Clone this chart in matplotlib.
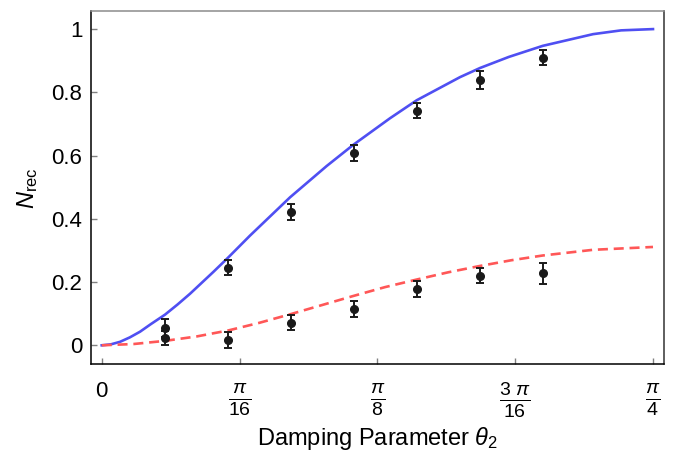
import matplotlib
matplotlib.use("Agg")
import matplotlib.pyplot as plt
import numpy as np

plt.rcParams["font.family"] = ["Liberation Sans", "DejaVu Sans"]
plt.rcParams["mathtext.fontset"] = "custom"
plt.rcParams["mathtext.rm"] = "Liberation Sans"
plt.rcParams["mathtext.it"] = "Liberation Sans:italic"
plt.rcParams["mathtext.bf"] = "Liberation Sans:bold"

# theory curves (theta in rad)
blue_theta = [0, 0.013, 0.0261, 0.040, 0.0546, 0.070, 0.0902, 0.108, 0.1258,
              0.159, 0.1804, 0.2113, 0.2683, 0.3205, 0.3584, 0.4107, 0.4488,
              0.5104, 0.539, 0.58, 0.6283, 0.70, 0.74, 0.7854]
blue_val = [0, 0.003, 0.011, 0.025, 0.043, 0.067, 0.097, 0.129, 0.163,
            0.232, 0.278, 0.347, 0.468, 0.567, 0.634, 0.718, 0.775,
            0.848, 0.877, 0.912, 0.947, 0.984, 0.996, 1.0]

red_theta = [0, 0.0451, 0.0902, 0.1353, 0.1804, 0.2244, 0.2683, 0.3134, 0.3584,
             0.4036, 0.4488, 0.4939, 0.539, 0.5836, 0.6283, 0.70, 0.7854]
red_val = [0, 0.004, 0.014, 0.028, 0.047, 0.071, 0.098, 0.127, 0.156,
           0.184, 0.208, 0.231, 0.251, 0.269, 0.284, 0.302, 0.311]

# measured points
pts_theta = [0.0898, 0.1795, 0.2693, 0.3590, 0.4488, 0.5386, 0.6283]
upper_val = [0.054, 0.246, 0.422, 0.609, 0.742, 0.839, 0.909]
upper_err = [0.028, 0.025, 0.025, 0.026, 0.024, 0.029, 0.024]
lower_val = [0.022, 0.017, 0.072, 0.115, 0.177, 0.220, 0.228]
lower_err = [0.022, 0.025, 0.023, 0.026, 0.025, 0.024, 0.033]

xtick_pos = [0, np.pi / 16, np.pi / 8, 3 * np.pi / 16, np.pi / 4]
xtick_lab = ["0", r"$\frac{\pi}{16}$", r"$\frac{\pi}{8}$",
             r"$\frac{3\ \pi}{16}$", r"$\frac{\pi}{4}$"]
ytick_pos = [0, 0.2, 0.4, 0.6, 0.8, 1.0]
ytick_lab = ["0", "0.2", "0.4", "0.6", "0.8", "1"]

fig = plt.figure(figsize=(6.74, 4.51), dpi=100)
ax = fig.add_axes([0.1346, 0.1918, 0.851, 0.784])

ax.plot(blue_theta, blue_val, color="#4f4ff2", lw=1.9, zorder=2)
ax.plot(red_theta, red_val, color="#ff5757", lw=1.9, dashes=(3.8, 2.2), zorder=2)

for vals, errs in [(upper_val, upper_err), (lower_val, lower_err)]:
    ax.errorbar(pts_theta, vals, yerr=errs, fmt="o", color="#1a1a1a", ms=5.5,
                elinewidth=1.4, capsize=3, capthick=1.4, zorder=3)

ax.set_xlim(-0.01567, 0.8015)
ax.set_ylim(-0.0607, 1.0575)

ax.set_xticks(xtick_pos)
ax.set_xticklabels(xtick_lab)
ax.set_yticks(ytick_pos)
ax.set_yticklabels(ytick_lab)
for i, t in enumerate(ax.get_xticklabels()):
    t.set_fontsize(16 if i == 0 else 20)

ax.tick_params(axis="y", direction="in", length=4, width=1, color="#808080",
               labelsize=16, pad=6)
ax.tick_params(axis="x", direction="in", length=4, width=1, color="#808080", pad=12)

ax.spines["left"].set_color("black")
ax.spines["bottom"].set_color("black")
ax.spines["right"].set_color("#333333")
ax.spines["top"].set_color("#8c8c8c")
for s in ax.spines.values():
    s.set_linewidth(1.1)

ax.set_xlabel(r"Damping Parameter $\theta_2$", fontsize=17, va="center")
ax.xaxis.set_label_coords(0.5, -0.208)
ax.set_ylabel(r"$N_{\mathrm{rec}}$", fontsize=17, labelpad=8)

fig.savefig("out.png", dpi=100)
